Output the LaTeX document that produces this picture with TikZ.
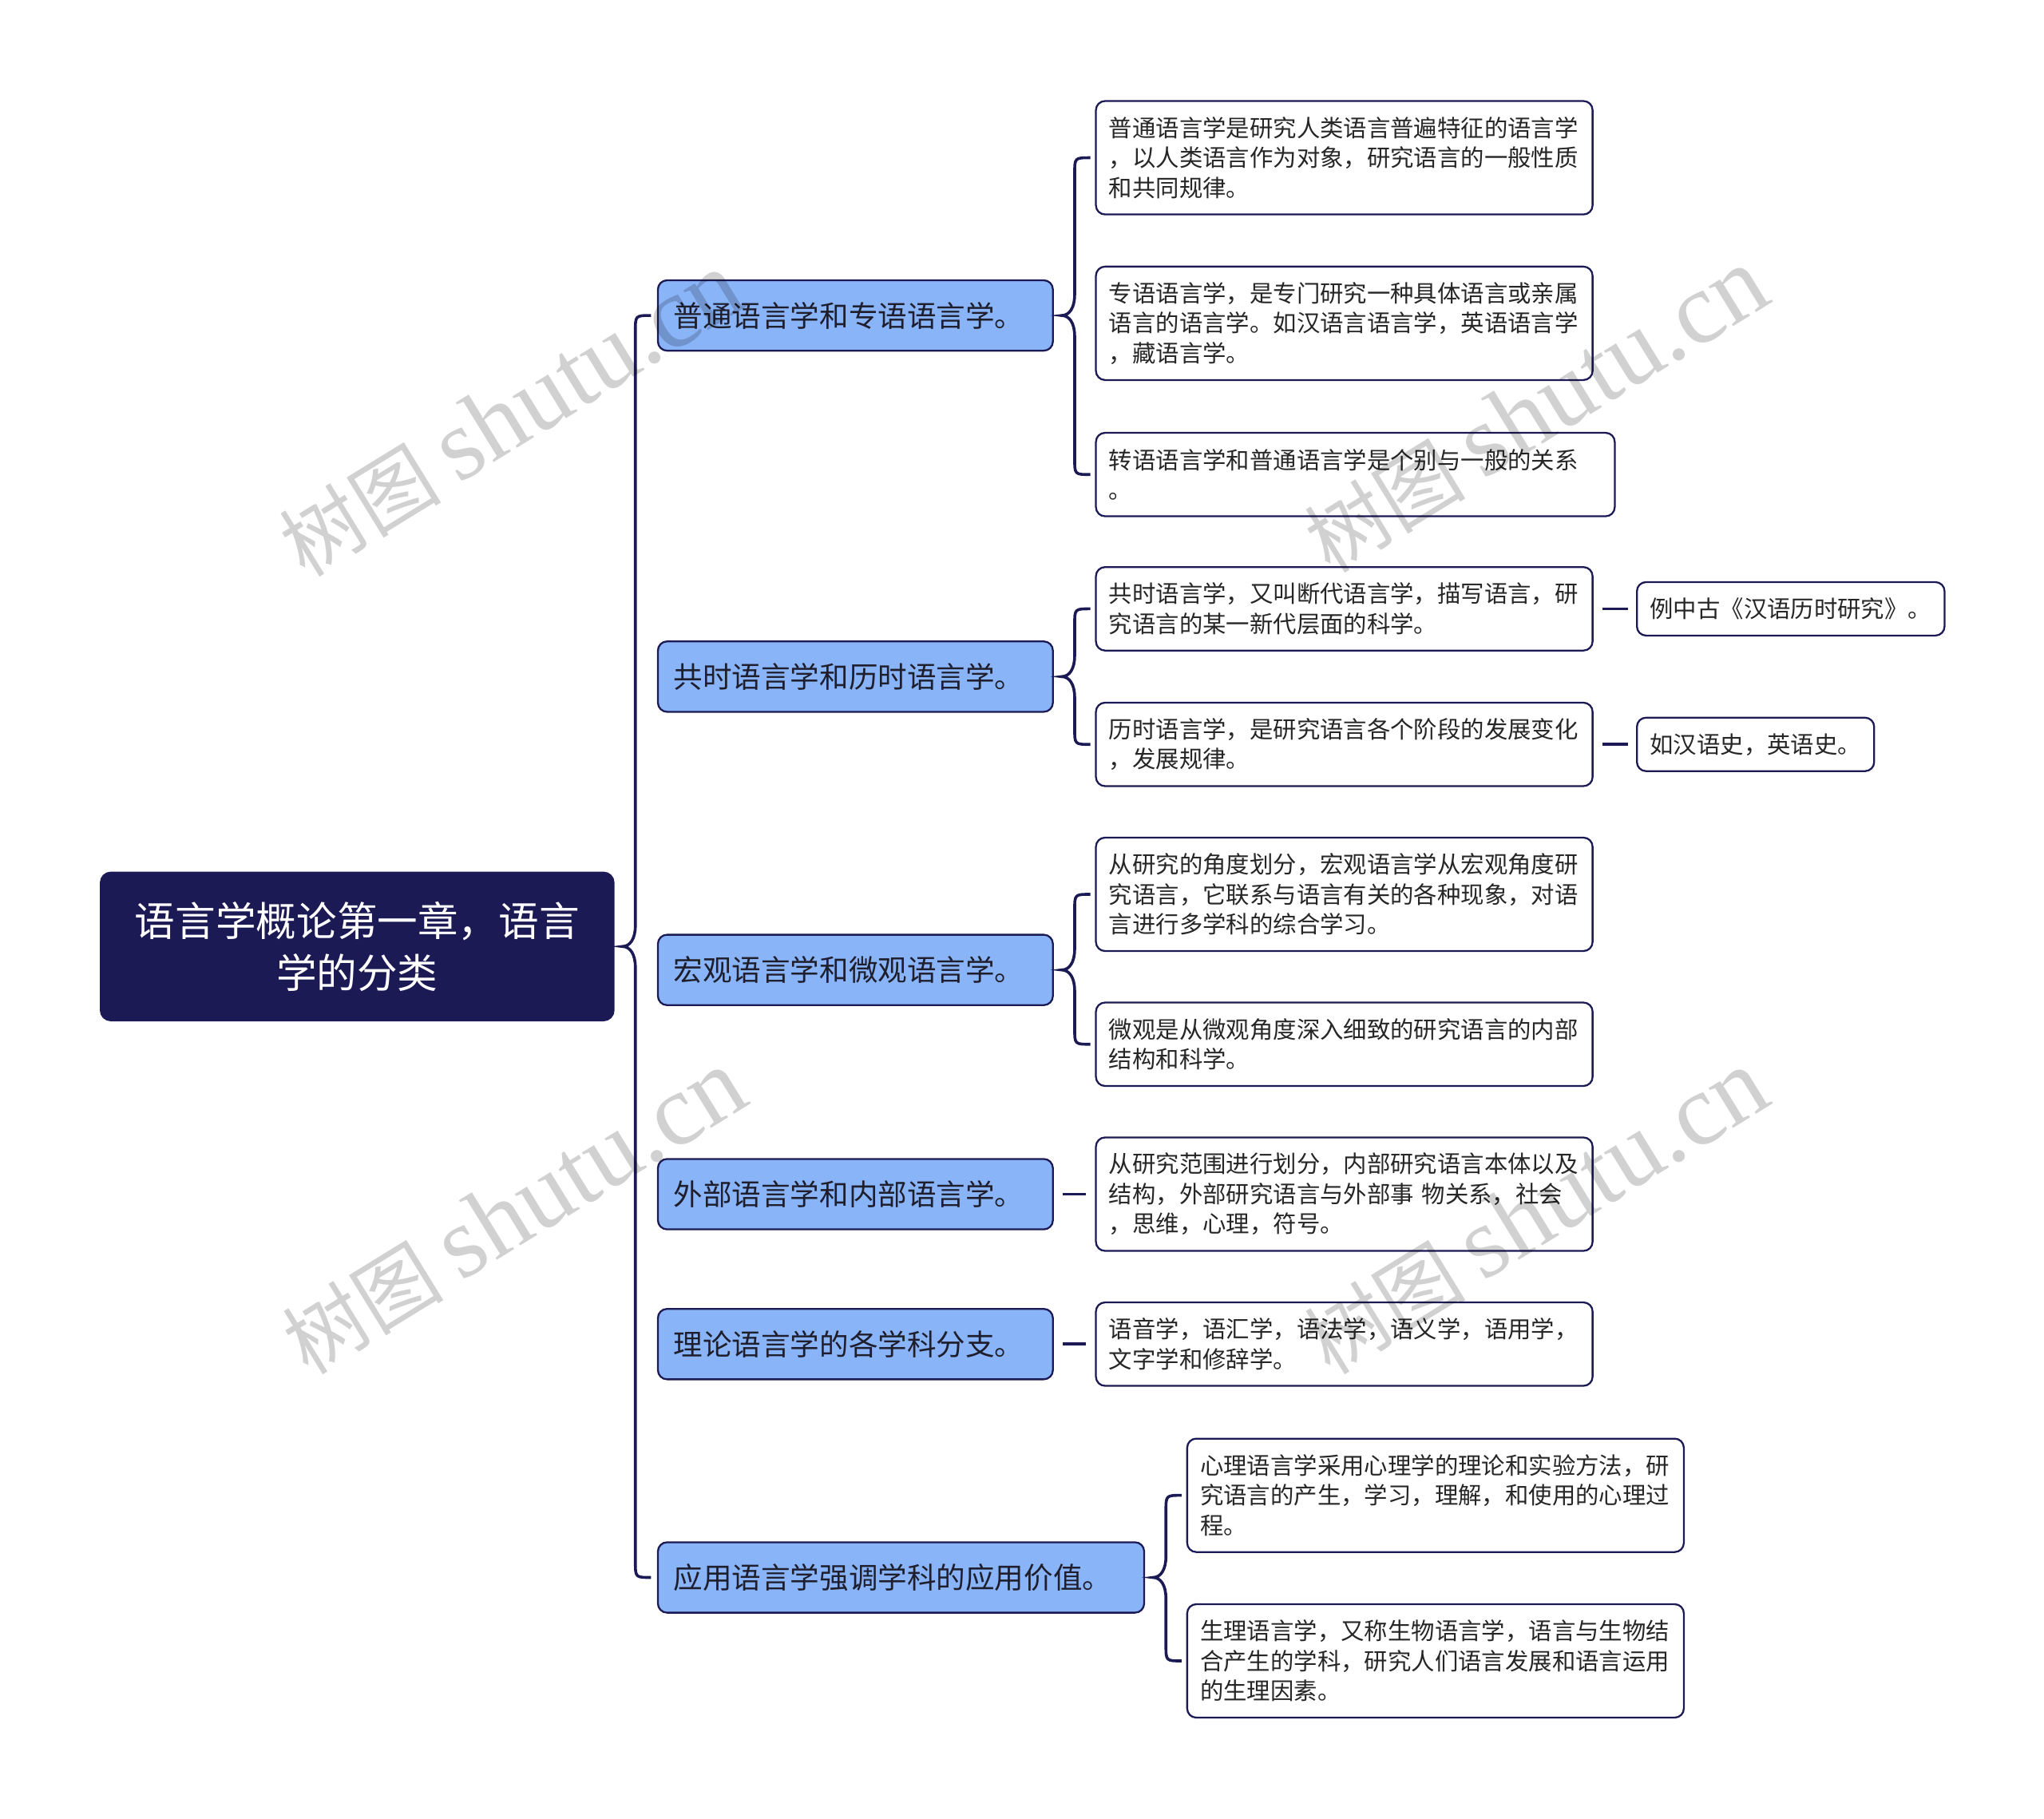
\documentclass[tikz,border=0pt]{standalone}
\usepackage{fontspec}
\setmainfont{Noto Sans CJK SC}
\newfontfamily\wmlatin{Liberation Serif}
\usetikzlibrary{calc}

\definecolor{navy}{HTML}{1C1A55}
\definecolor{skyblue}{HTML}{8AB4F8}
\definecolor{inkdark}{HTML}{1E1E2C}
\definecolor{inkgray}{HTML}{262626}

% curly bracket from a parent to its first and last child
\newcommand{\bracelink}[3]{%
	\draw[link] let \p1=($(#1.east)+(6,0)$), \p2=(#2.west), \p3=(#3.west) in
		(\x1+11pt,\y2) .. controls (\x1+5pt,\y2) .. (\x1+5pt,\y2-6pt)
		-- (\x1+5pt,\y1+8pt) .. controls (\x1+5pt,\y1+3pt) and (\x1+3pt,\y1) .. (\x1,\y1)
		.. controls (\x1+3pt,\y1) and (\x1+5pt,\y1-3pt) .. (\x1+5pt,\y1-8pt)
		-- (\x1+5pt,\y3+6pt) .. controls (\x1+5pt,\y3) .. (\x1+11pt,\y3);
}

\begin{document}
\begin{tikzpicture}[x=0.5pt, y=-0.5pt,
		rootbox/.style={fill=navy, draw=navy, rounded corners=4pt, text=white, align=center,
			font=\fontsize{15.5}{20}\selectfont, minimum width=197pt, minimum height=57pt},
		lvone/.style={anchor=west, draw=navy, fill=skyblue, line width=0.7pt, rounded corners=3.5pt,
			text=inkdark, align=left, text width=139.5pt, inner xsep=6pt, minimum height=27pt,
			font=\fontsize{11.2}{13}\selectfont},
		lvtwo/.style={anchor=west, draw=navy, fill=white, line width=0.7pt, rounded corners=3.5pt,
			text=inkgray, align=left, text width=180.5pt, inner xsep=5pt, inner ysep=2pt,
			font=\fontsize{9}{11.5}\selectfont},
		lvthree/.style={anchor=west, draw=navy, fill=white, line width=0.7pt, rounded corners=3.5pt,
			text=inkgray, inner xsep=5pt, minimum height=20.5pt, font=\fontsize{9}{11.5}\selectfont},
		threeline/.style={minimum height=43.5pt},
		twoline/.style={minimum height=32pt},
		link/.style={draw=navy, line width=1.1pt},
		wmark/.style={text=black, opacity=0.18, font=\fontsize{31}{40}\selectfont}]
		
		\useasboundingbox (0,0) rectangle (1568,1395);
		
		\node[rootbox] (root) at (274,726) {语言学概论第一章，语言\\学的分类};
		
		\node[lvone] (l1) at (504,242) {普通语言学和专语语言学。};
		\node[lvone] (l2) at (504,519) {共时语言学和历时语言学。};
		\node[lvone] (l3) at (504,744) {宏观语言学和微观语言学。};
		\node[lvone] (l4) at (504,916) {外部语言学和内部语言学。};
		\node[lvone] (l5) at (504,1031) {理论语言学的各学科分支。};
		\node[lvone, text width=174.5pt] (l6) at (504,1210) {应用语言学强调学科的应用价值。};
		
		\node[lvtwo, threeline] (l1a) at (840,121) {普通语言学是研究人类语言普遍特征的语言学\\，以人类语言作为对象，研究语言的一般性质\\和共同规律。};
		\node[lvtwo, threeline] (l1b) at (840,248) {专语语言学，是专门研究一种具体语言或亲属\\语言的语言学。如汉语言语言学，英语语言学\\，藏语言学。};
		\node[lvtwo, twoline, text width=189pt] (l1c) at (840,364) {转语语言学和普通语言学是个别与一般的关系\\。};
		
		\node[lvtwo, twoline] (l2a) at (840,467) {共时语言学，又叫断代语言学，描写语言，研\\究语言的某一新代层面的科学。};
		\node[lvtwo, twoline] (l2b) at (840,571) {历时语言学，是研究语言各个阶段的发展变化\\，发展规律。};
		\node[lvthree] (l2a1) at (1255,467) {例中古《汉语历时研究》。};
		\node[lvthree] (l2b1) at (1255,571) {如汉语史，英语史。};
		
		\node[lvtwo, threeline] (l3a) at (840,686) {从研究的角度划分，宏观语言学从宏观角度研\\究语言，它联系与语言有关的各种现象，对语\\言进行多学科的综合学习。};
		\node[lvtwo, twoline] (l3b) at (840,801) {微观是从微观角度深入细致的研究语言的内部\\结构和科学。};
		
		\node[lvtwo, threeline] (l4a) at (840,916) {从研究范围进行划分，内部研究语言本体以及\\结构，外部研究语言与外部事 物关系，社会\\，思维，心理，符号。};
		\node[lvtwo, twoline] (l5a) at (840,1031) {语音学，语汇学，语法学，语义学，语用学，\\文字学和修辞学。};
		
		\node[lvtwo, threeline] (l6a) at (910,1147) {心理语言学采用心理学的理论和实验方法，研\\究语言的产生，学习，理解，和使用的心理过\\程。};
		\node[lvtwo, threeline] (l6b) at (910,1274) {生理语言学，又称生物语言学，语言与生物结\\合产生的学科，研究人们语言发展和语言运用\\的生理因素。};
		
		\bracelink{root}{l1}{l6}
		\bracelink{l1}{l1a}{l1c}
		\bracelink{l2}{l2a}{l2b}
		\bracelink{l3}{l3a}{l3b}
		\bracelink{l6}{l6a}{l6b}
		
		\draw[link, shorten <=3.5pt, shorten >=3.5pt] (l4.east) -- (l4a.west);
		\draw[link, shorten <=3.5pt, shorten >=3.5pt] (l5.east) -- (l5a.west);
		\draw[link, shorten <=3.5pt, shorten >=3pt] (l2a.east) -- (l2a1.west);
		\draw[link, shorten <=3.5pt, shorten >=3pt] (l2b.east) -- (l2b1.west);
		
		%watermarks
		\node[wmark, rotate=31.6] (wm1) at (392,318) {树图 {\wmlatin\fontsize{39}{40}\selectfont shutu.cn}};
		\node[wmark, rotate=31.6] (wm2) at (1178,315) {树图 {\wmlatin\fontsize{39}{40}\selectfont shutu.cn}};
		\node[wmark, rotate=31.6] (wm3) at (394,930) {树图 {\wmlatin\fontsize{39}{40}\selectfont shutu.cn}};
		\node[wmark, rotate=31.6] (wm4) at (1178,930) {树图 {\wmlatin\fontsize{39}{40}\selectfont shutu.cn}};
		
	\end{tikzpicture}
\end{document}
